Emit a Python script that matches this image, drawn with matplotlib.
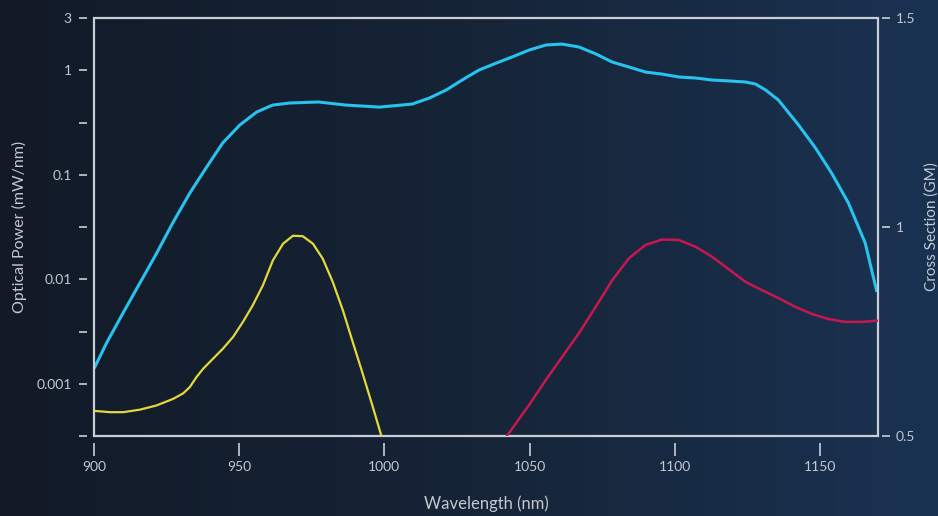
import numpy as np
import matplotlib
import matplotlib.pyplot as plt
from matplotlib.patches import Rectangle
from matplotlib.colors import LinearSegmentedColormap

matplotlib.use("Agg")

plt.rcParams['font.family'] = ['Lato', 'DejaVu Sans']

# optical power spectrum (left axis, log)
power_nm = [900.3, 904.5, 910.0, 915.8, 921.6, 927.1, 933.0, 938.8, 944.3, 950.2, 956.0,
            961.5, 967.4, 977.3, 986.9, 998.3, 1009.6, 1015.5, 1021.3, 1026.8, 1032.6,
            1038.5, 1044.0, 1049.8, 1055.7, 1061.2, 1067.0, 1072.9, 1078.4, 1084.2, 1090.0,
            1095.5, 1101.4, 1107.2, 1112.7, 1118.6, 1124.4, 1127.8, 1131.3, 1135.7, 1142.6,
            1148.5, 1154.0, 1159.8, 1165.6, 1169.5]
power_mw = [0.00145, 0.00251, 0.00475, 0.0092, 0.0178, 0.0345, 0.0668, 0.1185, 0.201, 0.299,
            0.398, 0.464, 0.486, 0.497, 0.464, 0.444, 0.475, 0.542, 0.647, 0.807, 1.005,
            1.17, 1.34, 1.56, 1.745, 1.78, 1.67, 1.43, 1.2, 1.075, 0.96,
            0.92, 0.862, 0.843, 0.807, 0.79, 0.772, 0.738, 0.647, 0.519, 0.30,
            0.180, 0.104, 0.0537, 0.0222, 0.0078]

# cross sections (right axis, linear)
yellow_nm = [900.3, 905.5, 910.1, 915.8, 921.5, 927.3, 930.7, 933.0, 935.3, 937.6, 941.0,
             944.4, 947.9, 951.3, 954.7, 958.2, 961.6, 965.1, 968.5, 971.9, 975.4, 978.8,
             982.2, 985.7, 989.1, 992.5, 996.0, 998.9, 1003.0]
yellow_gm = [0.560, 0.557, 0.557, 0.563, 0.573, 0.589, 0.602, 0.617, 0.641, 0.661, 0.685,
             0.709, 0.737, 0.773, 0.813, 0.861, 0.920, 0.960, 0.979, 0.978, 0.960, 0.924,
             0.869, 0.801, 0.725, 0.650, 0.570, 0.502, 0.40]

red_nm = [1036.0, 1042.4, 1049.8, 1055.6, 1061.3, 1067.0, 1072.8, 1078.5, 1084.2, 1089.9,
          1095.6, 1101.4, 1107.1, 1112.8, 1118.6, 1124.3, 1130.0, 1135.7, 1141.5, 1147.2,
          1152.9, 1158.7, 1164.4, 1170.0]
red_gm = [0.43, 0.502, 0.574, 0.634, 0.690, 0.746, 0.809, 0.873, 0.925, 0.957,
          0.970, 0.969, 0.953, 0.929, 0.899, 0.869, 0.849, 0.830, 0.809, 0.792,
          0.780, 0.773, 0.773, 0.776]

x_ticks = [900, 950, 1000, 1050, 1100, 1150]
left_ticks = [10 ** (k / 2) for k in range(-7, 2)]
left_labels = {1: '3', 0: '1', -2: '0.1', -4: '0.01', -6: '0.001'}
right_ticks = [0.5, 1, 1.5]

txt = '#c3c8d0'
frame = '#c9ced6'

fig = plt.figure(figsize=(9.38, 5.16), dpi=100)

# background gradient
bg = fig.add_axes([0, 0, 1, 1], zorder=-10)
cmap = LinearSegmentedColormap.from_list('bg', ['#121a27', '#162437', '#1a3252'])
grad = np.linspace(0, 1, 256).reshape(1, -1)
bg.imshow(grad, aspect='auto', cmap=cmap, extent=[0, 1, 0, 1])
bg.axis('off')

ax = fig.add_axes([94 / 938, 1 - 436 / 516, 784 / 938, 418 / 516])
ax.patch.set_alpha(0)
ax.set_yscale('log')
ax.set_xlim(900, 1170)
ax.set_ylim(10 ** -3.5, 10 ** 0.5)
ax.plot(power_nm, power_mw, color='#27c3ee', lw=2.2, solid_joinstyle='round')

ax.set_xticks(x_ticks)
ax.set_xticklabels([str(t) for t in x_ticks])
ax.set_yticks(left_ticks)
ax.set_yticklabels([left_labels.get(k, '') for k in range(-7, 2)])
ax.yaxis.set_minor_locator(matplotlib.ticker.NullLocator())

ax2 = ax.twinx()
ax2.set_ylim(0.5, 1.5)
ax2.set_yticks(right_ticks)
ax2.set_yticklabels(['0.5', '1', '1.5'])
ax2.plot(yellow_nm, yellow_gm, color='#e3d83a', lw=1.6, solid_joinstyle='round')
ax2.plot(red_nm, red_gm, color='#c8174f', lw=1.8, solid_joinstyle='round')

for a in (ax, ax2):
    for s in a.spines.values():
        s.set_visible(False)
ax.spines['left'].set_position(('outward', 5))
ax.spines['bottom'].set_position(('outward', 5))
ax2.spines['right'].set_position(('outward', 3))

ax.tick_params(axis='y', which='major', direction='out', length=6, width=1.2, color=frame,
               labelcolor=txt, labelsize=10, pad=5)
ax.tick_params(axis='x', which='major', direction='out', length=9, width=1.2, color=frame,
               labelcolor=txt, labelsize=10, pad=4)
ax2.tick_params(axis='y', direction='out', length=6, width=1.2, color=frame,
                labelcolor=txt, labelsize=10, pad=4)

ax.add_patch(Rectangle((0, 0), 1, 1, transform=ax.transAxes, fill=False,
                       edgecolor=frame, lw=1.6, clip_on=False, zorder=5))

ax.set_xlabel('Wavelength (nm)', color=txt, fontsize=12, labelpad=16)
ax.set_ylabel('Optical Power (mW/nm)', color=txt, fontsize=11.5, labelpad=7)
ax2.set_ylabel('Cross Section (GM)', color=txt, fontsize=11, labelpad=6)

fig.savefig('out.png', dpi=100)
